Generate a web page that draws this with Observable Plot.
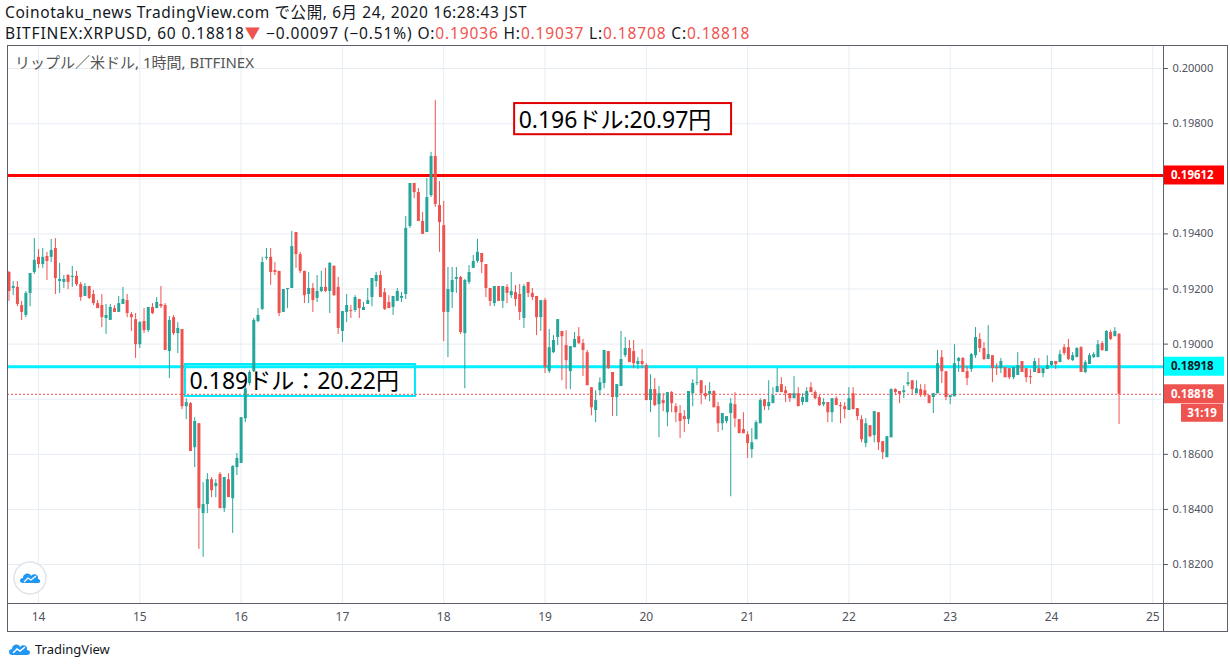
<!DOCTYPE html>
<html><head><meta charset="utf-8">
<script src="https://cdn.jsdelivr.net/npm/d3@7"></script>
<script src="https://cdn.jsdelivr.net/npm/@observablehq/plot@0.6"></script>
<style>
body{margin:0;background:#fff;font-family:"Noto Sans","Noto Sans CJK JP",sans-serif;}
#wrap{position:relative;width:1230px;height:669px;overflow:hidden;background:#fff;}
.hl{position:absolute;left:5px;font-size:15.5px;line-height:21px;color:#131722;white-space:nowrap;}
#h1{top:2px;letter-spacing:0.6px;}
#h2{top:23px;letter-spacing:0.85px;}
.hl .r{color:#ef5350;}
#chart{position:absolute;left:0;top:45px;}
#foot{position:absolute;left:8px;top:640px;font-size:13px;color:#131722;display:flex;align-items:center;gap:3px;}
</style></head><body>
<div id="wrap">
<div class="hl" id="h1">Coinotaku_news TradingView.com で公開, 6月 24, 2020 16:28:43 JST</div>
<div class="hl" id="h2">BITFINEX:XRPUSD, 60 0.18818<span class="r">▼</span> −0.00097 (−0.51%) O:<span class="r">0.19036</span> H:<span class="r">0.19037</span> L:<span class="r">0.18708</span> C:<span class="r">0.18818</span></div>
<div id="chart"></div>
<div id="foot"><svg width="24" height="16" viewBox="0 0 24 16"><path d="M4,14 C0,14 0,8 4,8 C4,3 11,2 12,6 C14,3 20,4 19,9 C23,9 23,14 19,14 Z" fill="#2196f3"/><path d="M5,12 L9,8 L12,10 L17,6" stroke="#fff" stroke-width="1.5" fill="none"/></svg><span>TradingView</span></div>
</div>
<script>
// Hourly candles, BITFINEX XRPUSD, first candle 2020-06-13 17:00
const open = [
0.19260,0.19202,0.19206,0.19140,0.19104,0.19184,0.19260,0.19315,0.19289,0.19318,
0.19315,0.19347,0.19227,0.19224,0.19249,0.19242,0.19246,0.19216,0.19173,0.19209,
0.19180,0.19147,0.19140,0.19093,0.19086,0.19129,0.19115,0.19144,0.19158,0.19107,
0.19089,0.18998,0.19082,0.19049,0.19133,0.19129,0.19144,0.19140,0.18973,0.19096,
0.19038,0.19053,0.18773,0.18784,0.18624,0.18711,0.18385,0.18418,0.18508,0.18483,
0.18527,0.18403,0.18508,0.18439,0.18552,0.18567,0.18729,0.18857,0.18900,0.19082,
0.19126,0.19311,0.19315,0.19267,0.19264,0.19115,0.19198,0.19202,0.19405,0.19325,
0.19264,0.19180,0.19202,0.19166,0.19191,0.19206,0.19191,0.19282,0.19206,0.19046,
0.19115,0.19122,0.19122,0.19162,0.19122,0.19144,0.19169,0.19227,0.19249,0.19187,
0.19151,0.19133,0.19155,0.19166,0.19180,0.19427,0.19583,0.19550,0.19445,0.19405,
0.19539,0.19681,0.19503,0.19430,0.19115,0.19187,0.19235,0.19242,0.19038,0.19224,
0.19275,0.19300,0.19329,0.19289,0.19202,0.19147,0.19209,0.19155,0.19206,0.19176,
0.19187,0.19180,0.19093,0.19224,0.19184,0.19173,0.19096,0.19158,0.18900,0.18969,
0.19024,0.19046,0.18995,0.18900,0.18987,0.19027,0.19002,0.18969,0.18842,0.18759,
0.18831,0.18857,0.18973,0.18897,0.18806,0.18846,0.18958,0.18984,0.18973,0.18926,
0.18937,0.18922,0.18795,0.18835,0.18780,0.18795,0.18751,0.18824,0.18773,0.18748,
0.18737,0.18726,0.18820,0.18857,0.18867,0.18820,0.18817,0.18828,0.18773,0.18711,
0.18719,0.18748,0.18780,0.18726,0.18690,0.18671,0.18617,0.18653,0.18711,0.18798,
0.18773,0.18784,0.18824,0.18853,0.18831,0.18820,0.18802,0.18820,0.18788,0.18788,
0.18842,0.18824,0.18806,0.18780,0.18788,0.18751,0.18802,0.18777,0.18773,0.18759,
0.18820,0.18766,0.18726,0.18639,0.18704,0.18668,0.18751,0.18646,0.18588,0.18660,
0.18835,0.18828,0.18824,0.18853,0.18867,0.18820,0.18835,0.18831,0.18813,0.18806,
0.18820,0.18951,0.18900,0.18806,0.18809,0.18937,0.18948,0.18900,0.18908,0.18958,
0.19017,0.18984,0.18944,0.18958,0.18915,0.18911,0.18915,0.18911,0.18878,0.18886,
0.18937,0.18911,0.18882,0.18897,0.18911,0.18893,0.18908,0.18922,0.18937,0.18933,
0.18987,0.18987,0.18940,0.18951,0.18987,0.18897,0.18926,0.18951,0.18951,0.19002,
0.18973,0.19042,0.19027,0.19036];
const high = [
0.19264,0.19227,0.19227,0.19155,0.19191,0.19256,0.19383,0.19343,0.19347,0.19333,
0.19380,0.19383,0.19293,0.19249,0.19253,0.19282,0.19264,0.19224,0.19220,0.19209,
0.19195,0.19158,0.19180,0.19144,0.19144,0.19140,0.19173,0.19206,0.19180,0.19115,
0.19111,0.19082,0.19129,0.19133,0.19147,0.19169,0.19209,0.19147,0.19100,0.19104,
0.19078,0.19053,0.18802,0.18788,0.18733,0.18711,0.18497,0.18530,0.18516,0.18508,
0.18534,0.18516,0.18530,0.18559,0.18603,0.18733,0.18860,0.18904,0.19093,0.19129,
0.19315,0.19347,0.19347,0.19296,0.19264,0.19198,0.19202,0.19409,0.19405,0.19333,
0.19264,0.19260,0.19220,0.19249,0.19264,0.19275,0.19296,0.19285,0.19242,0.19118,
0.19180,0.19140,0.19176,0.19162,0.19151,0.19202,0.19238,0.19260,0.19264,0.19202,
0.19176,0.19173,0.19202,0.19187,0.19463,0.19583,0.19583,0.19565,0.19478,0.19601,
0.19696,0.19884,0.19590,0.19518,0.19278,0.19278,0.19278,0.19246,0.19235,0.19285,
0.19322,0.19380,0.19329,0.19289,0.19202,0.19209,0.19209,0.19209,0.19216,0.19260,
0.19213,0.19216,0.19216,0.19224,0.19202,0.19173,0.19158,0.19166,0.19053,0.19031,
0.19089,0.19046,0.19049,0.18991,0.19042,0.19060,0.19017,0.18977,0.18842,0.18831,
0.18878,0.18977,0.18973,0.18897,0.18853,0.19046,0.19024,0.19013,0.19013,0.18951,
0.18980,0.18929,0.18889,0.18875,0.18846,0.18820,0.18824,0.18828,0.18784,0.18777,
0.18759,0.18828,0.18871,0.18911,0.18867,0.18849,0.18860,0.18831,0.18788,0.18748,
0.18737,0.18802,0.18824,0.18726,0.18751,0.18682,0.18693,0.18722,0.18802,0.18798,
0.18867,0.18842,0.18911,0.18878,0.18846,0.18820,0.18882,0.18842,0.18820,0.18842,
0.18860,0.18831,0.18813,0.18802,0.18788,0.18802,0.18809,0.18788,0.18788,0.18842,
0.18842,0.18766,0.18740,0.18729,0.18704,0.18755,0.18751,0.18646,0.18664,0.18838,
0.18838,0.18828,0.18849,0.18897,0.18867,0.18867,0.18853,0.18853,0.18813,0.18820,
0.18977,0.18977,0.18900,0.18813,0.18998,0.18951,0.18951,0.18918,0.18966,0.19060,
0.19038,0.19006,0.19067,0.18958,0.18929,0.18948,0.18915,0.18911,0.18915,0.18969,
0.18937,0.18911,0.18908,0.18948,0.18948,0.18911,0.18958,0.18937,0.18937,0.18977,
0.18998,0.19017,0.18969,0.18987,0.18991,0.18940,0.18966,0.18969,0.19013,0.19009,
0.19049,0.19049,0.19060,0.19037];
const low = [
0.19155,0.19176,0.19136,0.19086,0.19096,0.19136,0.19253,0.19275,0.19275,0.19231,
0.19296,0.19180,0.19184,0.19202,0.19198,0.19206,0.19209,0.19155,0.19173,0.19162,
0.19140,0.19129,0.19060,0.19035,0.19086,0.19115,0.19115,0.19144,0.19096,0.19046,
0.18948,0.18984,0.19038,0.19042,0.19107,0.19129,0.19129,0.18977,0.18875,0.19031,
0.18966,0.18762,0.18726,0.18610,0.18552,0.18255,0.18226,0.18385,0.18443,0.18443,
0.18403,0.18389,0.18443,0.18313,0.18523,0.18567,0.18715,0.18849,0.18897,0.19078,
0.19122,0.19304,0.19213,0.19249,0.19100,0.19115,0.19129,0.19202,0.19275,0.19256,
0.19147,0.19147,0.19115,0.19151,0.19187,0.19187,0.19111,0.19173,0.19035,0.19006,
0.19078,0.19093,0.19115,0.19093,0.19122,0.19144,0.19136,0.19206,0.19169,0.19122,
0.19129,0.19104,0.19155,0.19151,0.19162,0.19420,0.19528,0.19445,0.19398,0.19405,
0.19532,0.19496,0.19333,0.19009,0.18951,0.19129,0.19184,0.19035,0.18838,0.19216,
0.19275,0.19293,0.19256,0.19169,0.19136,0.19136,0.19155,0.19129,0.19147,0.19166,
0.19136,0.19086,0.19057,0.19169,0.19158,0.19031,0.19046,0.18893,0.18893,0.18966,
0.18995,0.18867,0.18835,0.18835,0.18987,0.18998,0.18882,0.18849,0.18740,0.18715,
0.18813,0.18838,0.18908,0.18737,0.18737,0.18846,0.18951,0.18933,0.18911,0.18908,
0.18911,0.18795,0.18751,0.18773,0.18660,0.18755,0.18700,0.18751,0.18715,0.18657,
0.18679,0.18708,0.18773,0.18849,0.18780,0.18798,0.18791,0.18769,0.18679,0.18686,
0.18711,0.18446,0.18697,0.18675,0.18675,0.18585,0.18585,0.18653,0.18711,0.18759,
0.18759,0.18784,0.18824,0.18824,0.18788,0.18788,0.18802,0.18773,0.18777,0.18788,
0.18824,0.18798,0.18773,0.18773,0.18715,0.18715,0.18777,0.18711,0.18729,0.18759,
0.18762,0.18722,0.18642,0.18624,0.18660,0.18642,0.18614,0.18581,0.18588,0.18660,
0.18813,0.18784,0.18802,0.18846,0.18813,0.18820,0.18806,0.18806,0.18784,0.18748,
0.18820,0.18857,0.18795,0.18780,0.18809,0.18897,0.18897,0.18849,0.18897,0.18948,
0.18969,0.18940,0.18944,0.18860,0.18886,0.18893,0.18878,0.18871,0.18871,0.18886,
0.18897,0.18860,0.18853,0.18897,0.18893,0.18878,0.18908,0.18918,0.18908,0.18933,
0.18958,0.18940,0.18937,0.18951,0.18897,0.18893,0.18926,0.18948,0.18951,0.18973,
0.18973,0.19013,0.19027,0.18708];
const close = [
0.19191,0.19209,0.19144,0.19115,0.19184,0.19256,0.19304,0.19289,0.19315,0.19300,
0.19340,0.19238,0.19235,0.19235,0.19224,0.19246,0.19216,0.19169,0.19209,0.19166,
0.19147,0.19129,0.19096,0.19104,0.19133,0.19115,0.19147,0.19162,0.19111,0.19096,
0.18998,0.19078,0.19049,0.19133,0.19111,0.19151,0.19136,0.18977,0.19086,0.19038,
0.19057,0.18773,0.18788,0.18610,0.18719,0.18403,0.18418,0.18508,0.18468,0.18494,
0.18403,0.18516,0.18443,0.18556,0.18585,0.18733,0.18838,0.18897,0.19086,0.19104,
0.19296,0.19315,0.19260,0.19260,0.19111,0.19198,0.19202,0.19354,0.19325,0.19264,
0.19176,0.19202,0.19158,0.19191,0.19206,0.19191,0.19293,0.19176,0.19057,0.19118,
0.19140,0.19118,0.19169,0.19129,0.19133,0.19158,0.19238,0.19249,0.19169,0.19126,
0.19129,0.19173,0.19191,0.19173,0.19420,0.19583,0.19550,0.19445,0.19398,0.19532,
0.19681,0.19507,0.19441,0.19115,0.19198,0.19231,0.19242,0.19042,0.19231,0.19260,
0.19300,0.19333,0.19296,0.19202,0.19155,0.19209,0.19155,0.19209,0.19184,0.19191,
0.19162,0.19115,0.19209,0.19184,0.19169,0.19096,0.19158,0.18915,0.18987,0.19013,
0.19089,0.19027,0.18940,0.18991,0.19017,0.19002,0.18977,0.18849,0.18769,0.18795,
0.18860,0.18977,0.18911,0.18806,0.18853,0.18944,0.18984,0.18933,0.18929,0.18937,
0.18926,0.18795,0.18835,0.18777,0.18820,0.18784,0.18824,0.18784,0.18751,0.18719,
0.18726,0.18828,0.18857,0.18860,0.18820,0.18809,0.18828,0.18769,0.18711,0.18748,
0.18737,0.18784,0.18729,0.18675,0.18675,0.18639,0.18642,0.18715,0.18795,0.18773,
0.18788,0.18813,0.18846,0.18824,0.18820,0.18802,0.18820,0.18773,0.18806,0.18828,
0.18824,0.18802,0.18777,0.18788,0.18751,0.18802,0.18777,0.18773,0.18762,0.18802,
0.18762,0.18737,0.18653,0.18711,0.18664,0.18755,0.18642,0.18606,0.18664,0.18835,
0.18824,0.18817,0.18831,0.18860,0.18835,0.18838,0.18813,0.18813,0.18784,0.18820,
0.18929,0.18900,0.18806,0.18813,0.18929,0.18948,0.18897,0.18875,0.18962,0.19024,
0.18984,0.18944,0.18962,0.18911,0.18911,0.18937,0.18878,0.18878,0.18915,0.18922,
0.18897,0.18878,0.18878,0.18937,0.18893,0.18911,0.18922,0.18937,0.18926,0.18962,
0.18966,0.18944,0.18958,0.18984,0.18897,0.18933,0.18958,0.18962,0.18998,0.18977,
0.19046,0.19017,0.19046,0.18818];

const days = [14,15,16,17,18,19,20,21,22,23,24,25];
const priceTicks = [0.182,0.184,0.186,0.188,0.190,0.192,0.194,0.196,0.198,0.200];
// tick labels hidden behind the price tags in the reference
const hiddenTickLabels = [0.196, 0.188];
const levelPrices = [0.19612, 0.18918];
const levelColors = ["#ff0000", "#00f0ff"];
const lastPrice = 0.18818;
const countdown = "31:19";
const noteTexts = ["0.196ドル:20.97円", "0.189ドル：20.22円"];
const noteColors = ["#e00000", "#00e8f8"];
// note boxes: [start, end] in hours after 2020-06-14 00:00, [top, bottom] in price
const noteHours = [[112.8, 164.2], [34.8, 89.3]];
const notePrices = [[0.19873, 0.19760], [0.18926, 0.18810]];

const UP = "#26a69a", DOWN = "#ef5350";
const base = new Date(2020, 5, 14);
const t0 = new Date(2020, 5, 13, 17);
const candles = close.map((c, i) => ({
  t: d3.timeHour.offset(t0, i), o: open[i], h: high[i], l: low[i], c,
  col: c >= open[i] ? UP : DOWN
}));
const dayTicks = days.map(d => new Date(2020, 5, d));
const labelTicks = priceTicks.filter(p => !hiddenTickLabels.includes(p));
const hoursToDate = h => d3.timeMinute.offset(base, Math.round(h * 60));
const notes = noteTexts.map((text, i) => ({
  text, color: noteColors[i],
  x1: hoursToDate(noteHours[i][0]), x2: hoursToDate(noteHours[i][1]),
  y1: notePrices[i][0], y2: notePrices[i][1], ym: (notePrices[i][0] + notePrices[i][1]) / 2
}));
const levels = levelPrices.map((p, i) => ({p, col: levelColors[i]}));

const FONT = '"Noto Sans","Noto Sans CJK JP",sans-serif';
const chart = Plot.plot({
  width: 1230, height: 588,
  marginLeft: 7, marginRight: 67, marginTop: 0, marginBottom: 30,
  x: {type: "time", domain: [hoursToDate(-7.35), hoursToDate(266.53)]},
  y: {domain: [0.180587, 0.200837]},
  style: {fontFamily: FONT, fontSize: "11px", color: "#50535e", background: "transparent", overflow: "visible"},
  marks: [
    Plot.ruleX(dayTicks, {stroke: "#e6edf3", strokeWidth: 1}),
    Plot.ruleY(priceTicks, {stroke: "#e6edf3", strokeWidth: 1}),
    Plot.rect(notes, {x1: "x1", x2: "x2", y1: "y1", y2: "y2", fill: "white", stroke: "color", strokeWidth: 2}),
    Plot.ruleY(levels, {y: "p", stroke: "col", strokeWidth: 3}),
    Plot.ruleY([lastPrice], {stroke: DOWN, strokeWidth: 1, strokeDasharray: "2,2"}),
    Plot.ruleX(candles, {x: "t", y1: "l", y2: "h", stroke: "col", strokeWidth: 1}),
    Plot.ruleX(candles, {x: "t", y1: "o", y2: "c", stroke: "col", strokeWidth: 3}),
    Plot.text(notes, {x: "x1", y: "ym", text: "text", textAnchor: "start", dx: 4, dy: 1, fontSize: 23, fill: "#000", lineAnchor: "middle"}),
    Plot.axisY({anchor: "right", ticks: labelTicks, tickFormat: d3.format(".5f"), tickSize: 4, tickPadding: 5, fontSize: 11, stroke: "#50535e"}),
    Plot.axisX({ticks: dayTicks, tickFormat: d => String(d.getDate()), tickSize: 0, tickPadding: 9, fontSize: 12})
  ]
});
document.getElementById("chart").appendChild(chart);

const svg = d3.select(chart);
const ys = chart.scale("y");
const yOf = v => ys.apply(v);
// frame lines
const g = svg.append("g").attr("fill", "none").attr("stroke", "#5d606b").attr("stroke-width", 1);
g.append("rect").attr("x", 7.5).attr("y", 0.5).attr("width", 1220).attr("height", 586);
g.append("line").attr("x1", 1163.5).attr("x2", 1163.5).attr("y1", 0).attr("y2", 587);
g.append("line").attr("x1", 7).attr("x2", 1228).attr("y1", 558.5).attr("y2", 558.5);

// legend title
svg.append("text").attr("x", 15).attr("y", 18).attr("dy", "0.35em").attr("text-anchor", "start")
  .attr("font-size", 15).attr("fill", "#555").attr("font-family", FONT)
  .text("リップル／米ドル, 1時間, BITFINEX");

// price labels on the right scale
const tags = [
  {v: levelPrices[0], fill: "#ff0000", text: "0.19612", tc: "#fff"},
  {v: levelPrices[1], fill: "#00ffff", text: "0.18918", tc: "#131722"},
  {v: lastPrice, fill: DOWN, text: "0.18818", tc: "#fff"}
];
for (const t of tags) {
  const y = yOf(t.v);
  svg.append("rect").attr("x", 1164).attr("y", y - 9.5).attr("width", 60).attr("height", 19).attr("fill", t.fill);
  svg.append("text").attr("x", 1171).attr("y", y).attr("dy", "0.36em").attr("font-size", 11.5).attr("text-anchor", "start")
    .attr("font-weight", "bold").attr("fill", t.tc).attr("font-family", FONT).text(t.text);
}
{
  const y = yOf(lastPrice) + 19;
  svg.append("rect").attr("x", 1181).attr("y", y - 9).attr("width", 42).attr("height", 18).attr("fill", DOWN);
  svg.append("text").attr("x", 1202).attr("y", y).attr("dy", "0.36em").attr("text-anchor", "middle")
    .attr("font-size", 11.5).attr("font-weight", "bold").attr("fill", "#fff").attr("font-family", FONT).text(countdown);
}
// logo badge
const lg = svg.append("g").attr("transform", "translate(30,533)");
lg.append("circle").attr("r", 16).attr("fill", "#fff").attr("stroke", "#e0e3eb").attr("stroke-width", 1.5);
lg.append("path").attr("d", "M-7,5 C-11,5 -11,0 -7,0 C-7,-5 0,-6 1,-2 C3,-5 9,-4 8,1 C11,1 11,5 8,5 Z").attr("fill", "#2196f3");
lg.append("path").attr("d", "M-6,4 L-2,0 L1,2 L6,-2").attr("stroke", "#fff").attr("stroke-width", 1.3).attr("fill", "none");
</script>
</body></html>
